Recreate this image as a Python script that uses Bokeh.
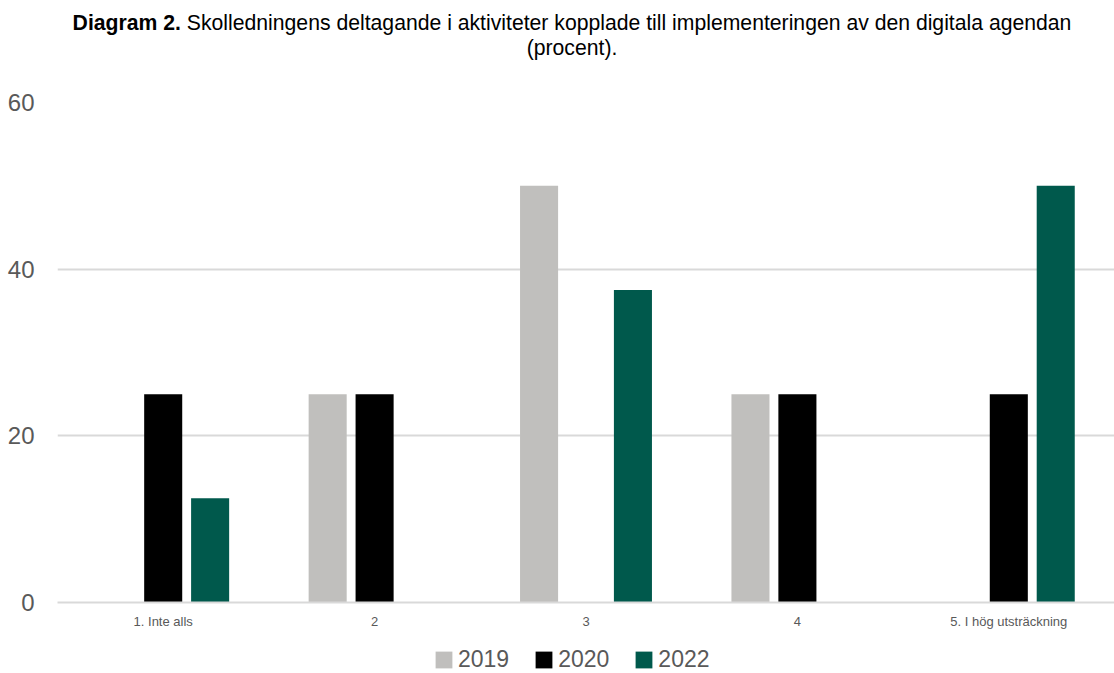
from bokeh.plotting import figure
from bokeh.models import (ColumnDataSource, FactorRange, Range1d, Div, Legend, LegendItem,
                          SingleIntervalTicker)
from bokeh.layouts import column
from bokeh.transform import dodge
from bokeh.embed import file_html
from bokeh.resources import INLINE

categories = ["1. Inte alls", "2", "3", "4", "5. I hög utsträckning"]
years = ["2019", "2020", "2022"]
v2019 = [0, 25, 50, 25, 0]
v2020 = [25, 25, 0, 25, 25]
v2022 = [12.5, 0, 37.5, 0, 50]
colors = ["#C0BFBD", "#000000", "#00594C"]

W = 1114
title_html = ('<div style="box-sizing:border-box;width:1114px;text-align:center;font-family:\'Liberation Sans\',Arial,sans-serif;'
              'font-size:21.2px;line-height:25px;color:#000;padding-top:10px;padding-left:30px;margin:0;">'
              '<b>Diagram 2.</b> Skolledningens deltagande i aktiviteter kopplade till implementeringen av den digitala agendan'
              '<br>(procent).</div>')
title = Div(text=title_html, width=W, height=68, margin=(0, 0, 0, 0))

src = ColumnDataSource(dict(cat=categories, y2019=v2019, y2020=v2020, y2022=v2022))

p = figure(x_range=FactorRange(*categories, range_padding=0), y_range=Range1d(0, 60),
           width=W, height=572, output_backend="svg", toolbar_location=None,
           min_border_left=57, min_border_right=0, min_border_top=34, min_border_bottom=38)

offsets = [-0.222, 0.0, 0.222]
for yr, col, off in zip(years, colors, offsets):
    p.vbar(x=dodge("cat", off, range=p.x_range), top="y" + yr, width=0.18, source=src,
           fill_color=col, line_color=None)

p.outline_line_color = None
p.background_fill_color = "white"
p.border_fill_color = "white"

p.xgrid.grid_line_color = None
p.ygrid.grid_line_color = "#D9D9D9"
p.ygrid.grid_line_width = 2
p.yaxis.ticker = SingleIntervalTicker(interval=20)
p.yaxis.axis_line_color = None
p.yaxis.major_tick_line_color = None
p.yaxis.minor_tick_line_color = None
p.yaxis.major_tick_out = 0
p.yaxis.major_label_text_font = "Liberation Sans"
p.yaxis.major_label_text_font_size = "24px"
p.yaxis.major_label_text_color = "#595959"
p.yaxis.major_label_standoff = 19

p.xaxis.axis_line_color = "#D9D9D9"
p.xaxis.axis_line_width = 2
p.xaxis.major_tick_line_color = None
p.xaxis.minor_tick_line_color = None
p.xaxis.major_tick_out = 0
p.xaxis.major_label_text_font = "Liberation Sans"
p.xaxis.major_label_text_font_size = "13px"
p.xaxis.major_label_text_color = "#595959"
p.xaxis.major_label_standoff = 11

# legend strip below the chart: its renderers are hidden, only the legend swatches show
lg = figure(width=W, height=33, x_range=FactorRange(*categories, range_padding=0),
            y_range=Range1d(-200, -199),
            output_backend="svg", toolbar_location=None,
            x_axis_location=None, y_axis_location=None,
            min_border_left=57, min_border_right=0, min_border_top=0, min_border_bottom=0)
lg.outline_line_color = None
lg.xgrid.grid_line_color = None
lg.ygrid.grid_line_color = None
lg.background_fill_color = "white"
lg.border_fill_color = "white"
items = []
for yr, col, off in zip(years, colors, offsets):
    r = lg.vbar(x=dodge("cat", off, range=lg.x_range), top="y" + yr, bottom="y" + yr,
                width=0.18, source=src, fill_color=col, line_color=None)
    r.visible = False
    items.append(LegendItem(label=yr, renderers=[r]))
legend = Legend(items=items, orientation="horizontal", location=(376, 0),
                glyph_width=21, glyph_height=21, label_standoff=4, spacing=24,
                label_text_font="Liberation Sans", label_text_font_size="23px",
                label_text_color="#595959", border_line_color=None,
                background_fill_alpha=0, inactive_fill_alpha=0,
                padding=0, margin=0)
lg.add_layout(legend)

layout = column(title, p, lg, spacing=0)
open("out.html", "w").write(file_html(layout, INLINE))
